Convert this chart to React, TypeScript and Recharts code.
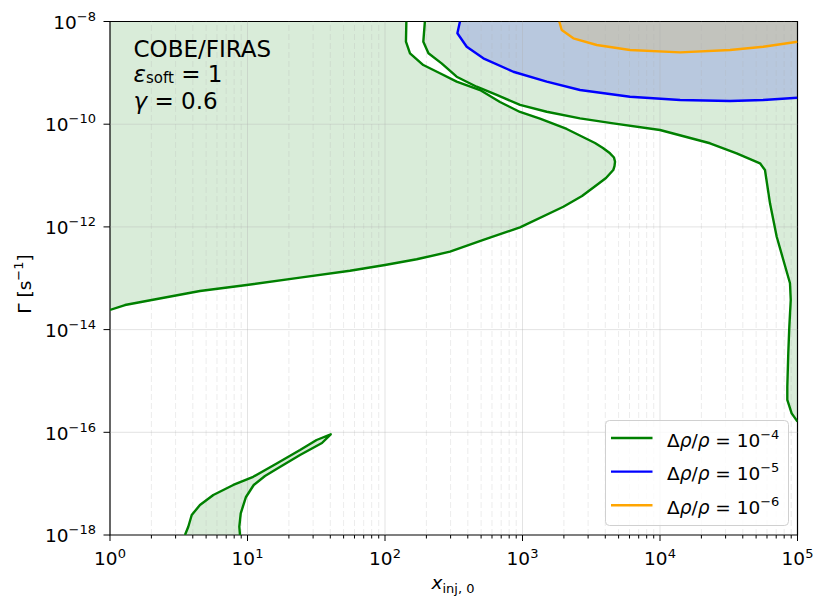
import React from "react";
import { ComposedChart, Area, Line, XAxis, YAxis, ReferenceLine, ReferenceArea, Legend } from "recharts";

const FONT = "DejaVu Sans, sans-serif";

const X_MIN = 1;
const X_MAX = 1e5;
const Y_MIN = 1e-18;
const Y_MAX = 1e-8;

const xMajorTicks = [1, 10, 100, 1000, 10000, 100000];
const xMinorTicks = [
  2, 3, 4, 5, 6, 7, 8, 9,
  20, 30, 40, 50, 60, 70, 80, 90,
  200, 300, 400, 500, 600, 700, 800, 900,
  2000, 3000, 4000, 5000, 6000, 7000, 8000, 9000,
  20000, 30000, 40000, 50000, 60000, 70000, 80000, 90000,
];
const yMajorTicks = [1e-18, 1e-16, 1e-14, 1e-12, 1e-10, 1e-8];

// Δρ/ρ = 1e-4, lower branch: left edge -> nose -> top edge
const lowX = [1, 1.285, 2.01, 4.51, 9.87, 24.1, 55.6, 100, 170, 297, 519, 959, 1982, 2710, 3467, 4049, 4571, 4667, 4710, 4627, 4329, 3846, 3367, 2096, 1340, 959, 686, 491, 332, 251, 190, 152, 142, 143];
const lowY = [2.41e-14, 3.01e-14, 3.77e-14, 5.65e-14, 7.39e-14, 1.03e-13, 1.4e-13, 1.81e-13, 2.34e-13, 3.29e-13, 5.56e-13, 9.82e-13, 2.47e-12, 4.0e-12, 6.55e-12, 8.95e-12, 1.28e-11, 1.53e-11, 1.86e-11, 2.25e-11, 2.71e-11, 3.44e-11, 4.31e-11, 8.07e-11, 1.29e-10, 1.73e-10, 2.71e-10, 4.63e-10, 6.73e-10, 9.8e-10, 1.42e-9, 2.4e-9, 4.04e-9, 1e-8];

// Δρ/ρ = 1e-4, upper branch: top edge -> right edge
const upX = [195, 190, 207, 258, 332, 464, 649, 959, 1500, 2620, 4571, 10000, 23100, 36100, 53400, 58000, 63100, 70600, 78900, 88200, 89300, 87200, 85700, 84300, 84300, 90700, 100000];
const upY = [1e-8, 4.04e-9, 2.4e-9, 1.53e-9, 8.41e-10, 5.37e-10, 3.71e-10, 2.37e-10, 1.75e-10, 1.3e-10, 1.04e-10, 7.71e-11, 4.25e-11, 2.71e-11, 1.73e-11, 1.28e-11, 2.88e-12, 6.44e-13, 2.27e-13, 7.98e-14, 3.77e-14, 1.14e-14, 3.45e-15, 7.73e-16, 4.26e-16, 2.34e-16, 1.61e-16];

// Δρ/ρ = 1e-4, small island at low x
const islandX = [3.51, 3.71, 3.93, 4.51, 5.64, 7.88, 11.0, 16.3, 24.1, 31.8, 40.3, 34.8, 24.1, 17.2, 13.4, 11.1, 9.75, 8.93, 8.72, 8.82];
const islandY = [1e-18, 1.45e-18, 2.45e-18, 3.84e-18, 6.01e-18, 9.42e-18, 1.36e-17, 2.47e-17, 4.51e-17, 7.08e-17, 9.14e-17, 6.19e-17, 3.61e-17, 2.11e-17, 1.41e-17, 9.42e-18, 5.5e-18, 2.65e-18, 1.45e-18, 1e-18];

// Δρ/ρ = 1e-5
const blueX = [351, 336, 393, 519, 857, 1500, 2620, 6050, 14000, 32300, 56400, 100000];
const blueY = [1e-8, 5.89e-9, 3.23e-9, 1.92e-9, 1.05e-9, 6.73e-10, 4.63e-10, 3.43e-10, 2.96e-10, 2.83e-10, 2.96e-10, 3.28e-10];

// Δρ/ρ = 1e-6
const orangeX = [1852, 1928, 2343, 3467, 6050, 14000, 32300, 56400, 100000];
const orangeY = [1e-8, 6.83e-9, 4.71e-9, 3.49e-9, 2.79e-9, 2.51e-9, 2.79e-9, 3.23e-9, 4.04e-9];

const legendLabels = ["-4", "-5", "-6"];
const legendColors = ["green", "blue", "orange"];

const pts = (xs: number[], ys: number[]) => xs.map((x, i) => ({ x, y: ys[i] }));

const lowLine = pts(lowX, lowY);
const upLine = pts(upX, upY);
const islandLine = pts(islandX, islandY);
const blueLine = pts(blueX, blueY);
const orangeLine = pts(orangeX, orangeY);

// closed polygons (first point repeated at the end)
const leftRegion = [{ x: X_MIN, y: Y_MAX }, ...lowLine, { x: X_MIN, y: Y_MAX }];
const rightRegion = [...upLine, { x: X_MAX, y: Y_MAX }, upLine[0]];
const islandRegion = [...islandLine, islandLine[0]];
const blueRegion = [...blueLine, { x: X_MAX, y: Y_MAX }, blueLine[0]];
const orangeRegion = [...orangeLine, { x: X_MAX, y: Y_MAX }, orangeLine[0]];

const isMajorX = (v: number) => xMajorTicks.some((t) => Math.abs(t - v) < t * 1e-6);

const XTick = ({ x, y, payload }: any) => {
  const v = payload.value;
  const major = isMajorX(v);
  return (
    <g>
      <line x1={x} x2={x} y1={y} y2={y + (major ? 6 : 3.5)} stroke="#000" strokeWidth={1} />
      {major && (
        <text x={x} y={y + 30} textAnchor="middle" fontFamily={FONT} fontSize={18.5} fill="#000">
          10<tspan dy={-7.5} fontSize={13}>{Math.round(Math.log10(v))}</tspan>
        </text>
      )}
    </g>
  );
};

const YTick = ({ x, y, payload }: any) => {
  const e = Math.round(Math.log10(payload.value));
  return (
    <g>
      <line x1={x - 6.5} x2={x} y1={y} y2={y} stroke="#000" strokeWidth={1} />
      <text x={x - 14} y={y + 7.2} textAnchor="end" fontFamily={FONT} fontSize={18.5} fill="#000">
        10<tspan dy={-8} fontSize={13}>{"\u2212" + Math.abs(e)}</tspan>
      </text>
    </g>
  );
};

const LegendBox = () => (
  <svg width={184} height={106} style={{ display: "block" }}>
    <rect x={0.5} y={0.5} width={183} height={105} rx={4} fill="#fff" fillOpacity={0.8} stroke="#d0d0d0" />
    {legendLabels.map((exp, i) => {
      const cy = 18 + i * 33.6;
      return (
        <g key={exp}>
          <line x1={6} x2={47.5} y1={cy} y2={cy} stroke={legendColors[i]} strokeWidth={2.4} />
          <text x={62} y={cy + 8.5} fontFamily={FONT} fontSize={18.5} fill="#000">
            Δ<tspan fontStyle="italic">ρ</tspan>/<tspan fontStyle="italic">ρ</tspan> = 10
            <tspan dy={-8} fontSize={13}>{exp.replace("-", "\u2212")}</tspan>
          </text>
        </g>
      );
    })}
  </svg>
);

const gridMajor = { stroke: "#b0b0b0", strokeOpacity: 0.35, strokeWidth: 1 };
const gridMinor = { stroke: "#b0b0b0", strokeOpacity: 0.3, strokeWidth: 0.8, strokeDasharray: "6 3" };
const LW = 2.4;

export default function App() {
  return (
    <div style={{ position: "relative", width: 814, height: 595 }}>
      <ComposedChart width={814} height={595} margin={{ top: 13.5, right: 24.5, bottom: 0, left: 42 }}>
        <XAxis
          type="number"
          dataKey="x"
          scale="log"
          domain={[X_MIN, X_MAX]}
          allowDataOverflow
          ticks={[...xMajorTicks, ...xMinorTicks]}
          interval={0}
          tickSize={0}
          tickMargin={0}
          tickLine={false}
          axisLine={false}
          tick={<XTick />}
          height={68}
        />
        <YAxis
          type="number"
          dataKey="y"
          scale="log"
          domain={[Y_MIN, Y_MAX]}
          allowDataOverflow
          ticks={yMajorTicks}
          interval={0}
          tickSize={0}
          tickMargin={0}
          tickLine={false}
          axisLine={false}
          tick={<YTick />}
          width={60}
        />
        {xMinorTicks.map((v) => (
          <ReferenceLine key={"xm" + v} x={v} {...gridMinor} />
        ))}
        {xMajorTicks.slice(1, -1).map((v) => (
          <ReferenceLine key={"xM" + v} x={v} {...gridMajor} />
        ))}
        {yMajorTicks.slice(1, -1).map((v) => (
          <ReferenceLine key={"yM" + v} y={v} {...gridMajor} />
        ))}

        <Area data={leftRegion} dataKey="y" type="linear" baseValue="dataMin" stroke="none" fill="green" fillOpacity={0.15} legendType="none" isAnimationActive={false} />
        <Area data={rightRegion} dataKey="y" type="linear" baseValue="dataMin" stroke="none" fill="green" fillOpacity={0.15} legendType="none" isAnimationActive={false} />
        <Area data={islandRegion} dataKey="y" type="linear" baseValue="dataMin" stroke="none" fill="green" fillOpacity={0.15} legendType="none" isAnimationActive={false} />
        <Area data={blueRegion} dataKey="y" type="linear" baseValue="dataMin" stroke="none" fill="blue" fillOpacity={0.15} legendType="none" isAnimationActive={false} />
        <Area data={orangeRegion} dataKey="y" type="linear" baseValue="dataMin" stroke="none" fill="orange" fillOpacity={0.15} legendType="none" isAnimationActive={false} />

        <Line data={lowLine} dataKey="y" type="linear" stroke="green" strokeWidth={LW} strokeLinejoin="round" dot={false} name="1e-4" isAnimationActive={false} />
        <Line data={upLine} dataKey="y" type="linear" stroke="green" strokeWidth={LW} strokeLinejoin="round" dot={false} legendType="none" isAnimationActive={false} />
        <Line data={islandLine} dataKey="y" type="linear" stroke="green" strokeWidth={LW} strokeLinejoin="round" dot={false} legendType="none" isAnimationActive={false} />
        <Line data={blueLine} dataKey="y" type="linear" stroke="blue" strokeWidth={LW} strokeLinejoin="round" dot={false} name="1e-5" isAnimationActive={false} />
        <Line data={orangeLine} dataKey="y" type="linear" stroke="orange" strokeWidth={LW} strokeLinejoin="round" dot={false} name="1e-6" isAnimationActive={false} />

        <ReferenceArea x1={X_MIN} x2={X_MAX} y1={Y_MIN} y2={Y_MAX} fill="none" fillOpacity={0} stroke="#000" strokeWidth={1.2} />

        <Legend
          layout="horizontal"
          verticalAlign="middle"
          align="center"
          wrapperStyle={{ left: 597, top: 412, width: 184, height: 106 }}
          content={() => <LegendBox />}
        />
      </ComposedChart>

      <svg width={814} height={595} style={{ position: "absolute", left: 0, top: 0, pointerEvents: "none" }}>
        <g fontFamily={FONT} fill="#000">
          <text x={125.5} y={48.7} fontSize={23}>COBE/FIRAS</text>
          <text x={125.5} y={73.5} fontSize={23}>
            <tspan fontStyle="italic">ε</tspan>
            <tspan dy={1.5} fontSize={15}>soft</tspan>
            <tspan dy={-1.5}> = 1</tspan>
          </text>
          <text x={125.5} y={100.5} fontSize={23}>
            <tspan fontStyle="italic">γ</tspan> = 0.6
          </text>
          <text x={445} y={581} textAnchor="middle" fontSize={18.5}>
            <tspan fontStyle="italic">x</tspan>
            <tspan dy={4} fontSize={13}>inj, 0</tspan>
          </text>
          <text x={23} y={276} textAnchor="middle" fontSize={18.5} transform="rotate(-90 23 276)">
            Γ [s<tspan dy={-8} fontSize={13}>{"\u22121"}</tspan>
            <tspan dy={8}>]</tspan>
          </text>
        </g>
      </svg>
    </div>
  );
}
